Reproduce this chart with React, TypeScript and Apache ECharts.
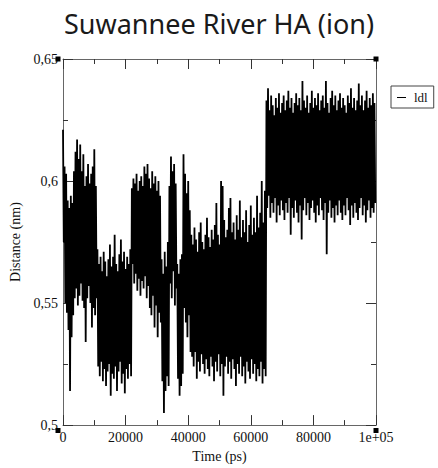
import React, { useEffect, useRef } from "react";
import * as echarts from "echarts";

// Time bins of 500 ps; in each bin the trace swings to a high then a low value (nm)
const binSizePs = 500;
const seriesName = "ldl";
const titleText = "Suwannee River HA (ion)";
const xName = "Time (ps)";
const yName = "Distance (nm)";

const hiValues = [
  // 0 - 11000 ps
  0.621, 0.606, 0.603, 0.592, 0.589, 0.594, 0.591, 0.604, 0.612, 0.617,
  0.609, 0.615, 0.604, 0.611, 0.598, 0.602, 0.607, 0.599, 0.603, 0.606,
  0.613, 0.598,
  // 11000 - 22000 ps
  0.572, 0.566, 0.569, 0.563, 0.571, 0.567, 0.561, 0.568, 0.574, 0.565,
  0.569, 0.578, 0.566, 0.563, 0.57, 0.576, 0.567, 0.571, 0.564, 0.569,
  0.566, 0.572,
  // 22000 - 31500 ps
  0.597, 0.601, 0.599, 0.603, 0.596, 0.6, 0.602, 0.598, 0.606, 0.603,
  0.607, 0.601, 0.597, 0.604, 0.599, 0.602, 0.596, 0.6, 0.594,
  // 31500 - 34000 ps
  0.568, 0.562, 0.571, 0.565, 0.575,
  // 34000 - 36500 ps
  0.598, 0.61, 0.604, 0.607, 0.599,
  // 36500 - 38500 ps
  0.566, 0.562, 0.568, 0.57,
  // 38500 - 41000 ps
  0.611, 0.603, 0.595, 0.6, 0.588,
  // 41000 - 65000 ps
  0.578, 0.574, 0.581, 0.576, 0.571, 0.579, 0.583, 0.575, 0.572, 0.578,
  0.585, 0.577, 0.573, 0.58, 0.576, 0.582, 0.591, 0.578, 0.574, 0.6,
  0.598, 0.584, 0.577, 0.58, 0.589, 0.593, 0.579, 0.583, 0.576, 0.586,
  0.58, 0.592, 0.577, 0.584, 0.579, 0.588, 0.575, 0.582, 0.59, 0.578,
  0.585, 0.579, 0.594, 0.581, 0.587, 0.6, 0.583, 0.596,
  // 65000 - 100000 ps
  0.633, 0.638, 0.629, 0.635, 0.631, 0.627, 0.634, 0.63, 0.636, 0.628,
  0.632, 0.635, 0.629, 0.633, 0.637, 0.63, 0.634, 0.628, 0.632, 0.636,
  0.631, 0.634, 0.629, 0.641, 0.633, 0.63, 0.635, 0.628, 0.632, 0.637,
  0.63, 0.634, 0.631, 0.636, 0.629, 0.633, 0.635, 0.63, 0.641, 0.632,
  0.628, 0.634, 0.637, 0.631, 0.635, 0.629, 0.633, 0.636, 0.63, 0.634,
  0.631, 0.628, 0.635, 0.632, 0.638, 0.63, 0.634, 0.629, 0.633, 0.64,
  0.631, 0.635, 0.629, 0.633, 0.637, 0.63, 0.634, 0.631, 0.636, 0.632,
];

const loValues = [
  // 0 - 11000 ps
  0.575, 0.55, 0.546, 0.539, 0.514, 0.536, 0.545, 0.552, 0.556, 0.549,
  0.553, 0.558, 0.551, 0.548, 0.534, 0.552, 0.557, 0.55, 0.54, 0.548,
  0.545, 0.552,
  // 11000 - 22000 ps
  0.524, 0.52, 0.526, 0.518, 0.523, 0.516, 0.522, 0.525, 0.512, 0.521,
  0.519, 0.524, 0.514, 0.522, 0.526, 0.517, 0.521, 0.513, 0.523, 0.519,
  0.525, 0.52,
  // 22000 - 31500 ps
  0.566, 0.558, 0.562, 0.555, 0.56, 0.553, 0.559, 0.556, 0.561, 0.552,
  0.557, 0.548, 0.545, 0.553, 0.54, 0.549, 0.536, 0.546, 0.542,
  // 31500 - 34000 ps
  0.518, 0.505, 0.514, 0.52, 0.516,
  // 34000 - 36500 ps
  0.558, 0.552, 0.563, 0.549, 0.556,
  // 36500 - 38500 ps
  0.519, 0.512, 0.516, 0.521,
  // 38500 - 41000 ps
  0.548, 0.542, 0.536, 0.545, 0.53,
  // 41000 - 65000 ps
  0.528, 0.524, 0.53, 0.519, 0.526, 0.522, 0.529, 0.525, 0.521, 0.527,
  0.523, 0.52, 0.528, 0.524, 0.518, 0.526, 0.522, 0.529, 0.52, 0.525,
  0.512, 0.524, 0.528, 0.521, 0.526, 0.519, 0.527, 0.523, 0.516, 0.525,
  0.521, 0.528, 0.52, 0.524, 0.517, 0.526, 0.522, 0.519, 0.527, 0.521,
  0.525, 0.518, 0.523, 0.52, 0.526, 0.517, 0.523, 0.52,
  // 65000 - 100000 ps
  0.589, 0.594, 0.585, 0.591, 0.587, 0.593, 0.583, 0.59, 0.586, 0.592,
  0.588, 0.584, 0.591, 0.587, 0.593, 0.578, 0.589, 0.585, 0.592, 0.587,
  0.583, 0.59, 0.576, 0.588, 0.593, 0.586, 0.591, 0.584, 0.589, 0.592,
  0.587, 0.583, 0.59, 0.586, 0.593, 0.588, 0.584, 0.591, 0.57, 0.587,
  0.592, 0.585, 0.589, 0.583, 0.59, 0.586, 0.592, 0.587, 0.584, 0.59,
  0.586, 0.593, 0.588, 0.582, 0.59, 0.585, 0.591, 0.587, 0.584, 0.589,
  0.593, 0.586, 0.59, 0.583, 0.588, 0.592, 0.585, 0.589, 0.587, 0.591,
];

const xMin = 0;
const xMax = 100000;
const xInterval = 20000;
const yMin = 0.5;
const yMax = 0.65;
const yInterval = 0.05;

const W = 438;
const H = 468;
const GRID = { left: 58, right: 62, top: 59, bottom: 37.5 };

const SERIF = "'Liberation Serif', 'DejaVu Serif', serif";
const AXIS_COLOR = "#666";

function buildData(): [number, number][] {
  const out: [number, number][] = [];
  for (let i = 0; i < hiValues.length; i++) {
    out.push([i * binSizePs, hiValues[i]]);
    out.push([i * binSizePs + binSizePs / 2, loValues[i]]);
  }
  return out;
}

export default function App() {
  const ref = useRef<HTMLDivElement>(null);

  useEffect(() => {
    if (!ref.current) return;
    const chart = echarts.init(ref.current, undefined, { renderer: "svg" });

    const xFmt = (v: number) => (v === 100000 ? "1e+05" : String(v));
    const yFmt = (v: number) => String(+v.toFixed(2)).replace(".", ",");

    const baseX = {
      type: "value" as const,
      min: xMin,
      max: xMax,
      interval: xInterval,
      axisLine: { show: true, onZero: false, lineStyle: { color: AXIS_COLOR, width: 1 } },
      axisTick: { show: true, inside: true, length: 10, lineStyle: { color: "#333" } },
      minorTick: { show: true, splitNumber: 2, length: 5, lineStyle: { color: "#333" } },
      splitLine: { show: false },
    };
    const baseY = {
      type: "value" as const,
      min: yMin,
      max: yMax,
      interval: yInterval,
      axisLine: { show: true, onZero: false, lineStyle: { color: AXIS_COLOR, width: 1 } },
      axisTick: { show: true, inside: true, length: 10, lineStyle: { color: "#333" } },
      minorTick: { show: true, splitNumber: 2, length: 5, lineStyle: { color: "#333" } },
      splitLine: { show: false },
    };

    const plotRight = W - GRID.right;
    const plotBottom = H - GRID.bottom;
    const sq = 5;
    const corners = [
      [GRID.left, GRID.top],
      [plotRight, GRID.top],
      [GRID.left, plotBottom],
      [plotRight, plotBottom],
    ];

    chart.setOption({
      animation: false,
      backgroundColor: "#fff",
      title: {
        text: titleText,
        left: "center",
        top: 5,
        textStyle: {
          fontFamily: "'Noto Sans', 'DejaVu Sans', sans-serif",
          fontSize: 27,
          fontWeight: "normal",
          color: "#1a1a1a",
        },
      },
      legend: {
        data: [{ name: seriesName, icon: "rect" }],
        left: 391,
        top: 86,
        orient: "vertical",
        borderColor: "#444",
        borderWidth: 1,
        borderRadius: 0,
        padding: [5, 6, 4, 6],
        itemWidth: 9,
        itemHeight: 1,
        itemGap: 0,
        textStyle: { fontFamily: SERIF, fontSize: 13, color: "#111", padding: [0, 0, 0, 3] },
        selectedMode: false,
      },
      grid: { ...GRID, containLabel: false },
      xAxis: [
        {
          ...baseX,
          position: "bottom",
          name: xName,
          nameLocation: "middle",
          nameGap: 21,
          nameTextStyle: { fontFamily: SERIF, fontSize: 14, color: "#111" },
          axisLabel: { show: true, formatter: xFmt, fontFamily: SERIF, fontSize: 14, color: "#111", margin: 5 },
        },
        {
          ...baseX,
          position: "top",
          axisLabel: { show: false },
        },
      ],
      yAxis: [
        {
          ...baseY,
          position: "left",
          name: yName,
          nameLocation: "middle",
          nameGap: 41,
          nameTextStyle: { fontFamily: SERIF, fontSize: 14, color: "#111" },
          axisLabel: { show: true, formatter: yFmt, fontFamily: SERIF, fontSize: 14, color: "#111", margin: 5 },
        },
        {
          ...baseY,
          position: "right",
          axisLabel: { show: false },
        },
      ],
      series: [
        {
          name: seriesName,
          type: "line",
          xAxisIndex: 0,
          yAxisIndex: 0,
          data: buildData(),
          symbol: "none",
          showSymbol: false,
          lineStyle: { color: "#000", width: 1.8, join: "miter", miterLimit: 2 },
          itemStyle: { color: "#000" },
          silent: true,
          z: 1,
        },
      ],
      graphic: corners.map(([cx, cy]) => ({
        type: "rect",
        shape: { x: cx - sq / 2, y: cy - sq / 2, width: sq, height: sq },
        style: { fill: "#000" },
        z: 100,
      })),
    });

    return () => chart.dispose();
  }, []);

  return (
    <div
      ref={ref}
      style={{ position: "absolute", left: 0, top: 0, width: W, height: H, background: "#fff" }}
    />
  );
}
